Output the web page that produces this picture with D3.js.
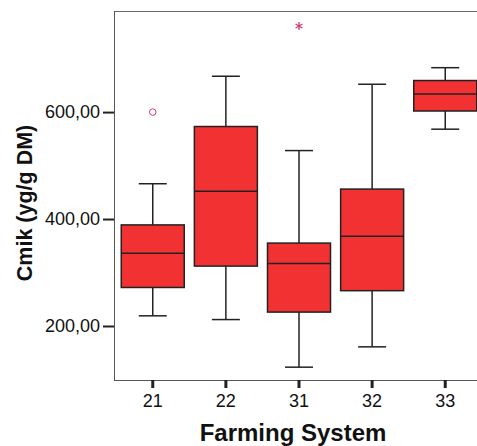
<!DOCTYPE html>
<html>
<head>
<meta charset="utf-8">
<script src="https://cdn.jsdelivr.net/npm/d3@7"></script>
<style>
  html, body { margin: 0; padding: 0; background: #fff; }
  svg { display: block; }
</style>
</head>
<body>
<svg id="chart" width="477" height="446"></svg>
<script>
// Farming system groups and their box-plot statistics (Cmik, yg/g DM)
const categories = ["21", "22", "31", "32", "33"];
const whiskerLow  = [219, 212, 123, 161, 568];
const q1          = [272, 312, 226, 266, 602];
const median      = [336, 452, 317, 368, 634];
const q3          = [389, 573, 355, 456, 659];
const whiskerHigh = [466, 667, 528, 652, 683];

// Outliers: circles are mild outliers, stars are extremes
const outlierGroup = ["21", "31"];
const outlierValue = [600, 761];
const outlierKind  = ["circle", "star"];

const yTicks = [200, 400, 600];
const fmt = v => d3.format(".2f")(v).replace(".", ",");

const svg = d3.select("#chart");
const plot = { left: 114, right: 484, top: 11, bottom: 380 };

const x = d3.scaleBand()
  .domain(categories)
  .range([plot.left, plot.right])
  .paddingInner(0)
  .paddingOuter(0.03);

const y = d3.scaleLinear()
  .domain([99, 789])
  .range([plot.bottom, plot.top]);

const boxW = 63, capW = 28;
const cx = c => x(c) + x.bandwidth() / 2;
const font = "Arial, 'Liberation Sans', sans-serif";

// plot frame (top edge)
svg.append("line")
  .attr("x1", plot.left).attr("x2", plot.right)
  .attr("y1", plot.top + 0.5).attr("y2", plot.top + 0.5)
  .attr("stroke", "#666").attr("stroke-width", 1);

// axes
const yAxis = svg.append("g")
  .attr("transform", `translate(${plot.left},0)`)
  .call(d3.axisLeft(y).tickValues(yTicks).tickFormat(fmt).tickSize(11).tickPadding(3));
yAxis.select(".domain").attr("stroke", "#555").attr("d", `M0.5,${plot.top}V${plot.bottom + 0.5}`);
yAxis.selectAll(".tick line").attr("stroke", "#222").attr("stroke-width", 2);
yAxis.selectAll("text")
  .attr("font-family", font)
  .attr("font-size", 18).attr("fill", "#111");

const xAxis = svg.append("g")
  .attr("transform", `translate(0,${plot.bottom})`)
  .call(d3.axisBottom(x).tickSize(8).tickPadding(6));
xAxis.select(".domain").attr("stroke", "#555").attr("d", `M${plot.left},0.5H${plot.right}`);
xAxis.selectAll(".tick line").attr("stroke", "#222").attr("stroke-width", 3);
xAxis.selectAll("text")
  .attr("font-family", font)
  .attr("font-size", 18).attr("fill", "#111");

// axis titles
svg.append("text")
  .attr("x", 293).attr("y", 441)
  .attr("text-anchor", "middle")
  .attr("font-family", font)
  .attr("font-weight", "bold").attr("font-size", 24).attr("fill", "#111")
  .text("Farming System");

svg.append("text")
  .attr("transform", "translate(32,203) rotate(-90)")
  .attr("text-anchor", "middle")
  .attr("font-family", font)
  .attr("font-weight", "bold").attr("font-size", 21.5).attr("fill", "#111")
  .text("Cmik (yg/g DM)");

// boxes
const groups = categories.map((c, i) => ({
  c, lo: whiskerLow[i], q1: q1[i], med: median[i], q3: q3[i], hi: whiskerHigh[i]
}));

const g = svg.append("g").selectAll("g").data(groups).join("g");
const stroke = "#222";

// whisker stems
g.append("line")
  .attr("x1", d => cx(d.c)).attr("x2", d => cx(d.c))
  .attr("y1", d => y(d.hi)).attr("y2", d => y(d.q3))
  .attr("stroke", stroke).attr("stroke-width", 1.5);
g.append("line")
  .attr("x1", d => cx(d.c)).attr("x2", d => cx(d.c))
  .attr("y1", d => y(d.q1)).attr("y2", d => y(d.lo))
  .attr("stroke", stroke).attr("stroke-width", 1.5);
// caps
g.append("line")
  .attr("x1", d => cx(d.c) - capW / 2).attr("x2", d => cx(d.c) + capW / 2)
  .attr("y1", d => y(d.hi)).attr("y2", d => y(d.hi))
  .attr("stroke", stroke).attr("stroke-width", 1.5);
g.append("line")
  .attr("x1", d => cx(d.c) - capW / 2).attr("x2", d => cx(d.c) + capW / 2)
  .attr("y1", d => y(d.lo)).attr("y2", d => y(d.lo))
  .attr("stroke", stroke).attr("stroke-width", 1.5);
// box
g.append("rect")
  .attr("x", d => cx(d.c) - boxW / 2).attr("width", boxW)
  .attr("y", d => y(d.q3)).attr("height", d => y(d.q1) - y(d.q3))
  .attr("fill", "#f23232").attr("stroke", stroke).attr("stroke-width", 1.5);
// median
g.append("line")
  .attr("x1", d => cx(d.c) - boxW / 2).attr("x2", d => cx(d.c) + boxW / 2)
  .attr("y1", d => y(d.med)).attr("y2", d => y(d.med))
  .attr("stroke", stroke).attr("stroke-width", 1.5);

// outliers
const outliers = outlierGroup.map((c, i) => ({ c, v: outlierValue[i], kind: outlierKind[i] }));
svg.append("g").selectAll("path").data(outliers).join("path")
  .attr("transform", d => `translate(${cx(d.c)},${y(d.v)})`)
  .attr("d", d => d.kind === "circle"
    ? d3.symbol(d3.symbolCircle, 34)()
    : d3.symbol(d3.symbolAsterisk, 45)())
  .attr("fill", "none")
  .attr("stroke", "#d0406a")
  .attr("stroke-width", d => d.kind === "circle" ? 1 : 1.3);
</script>
</body>
</html>
